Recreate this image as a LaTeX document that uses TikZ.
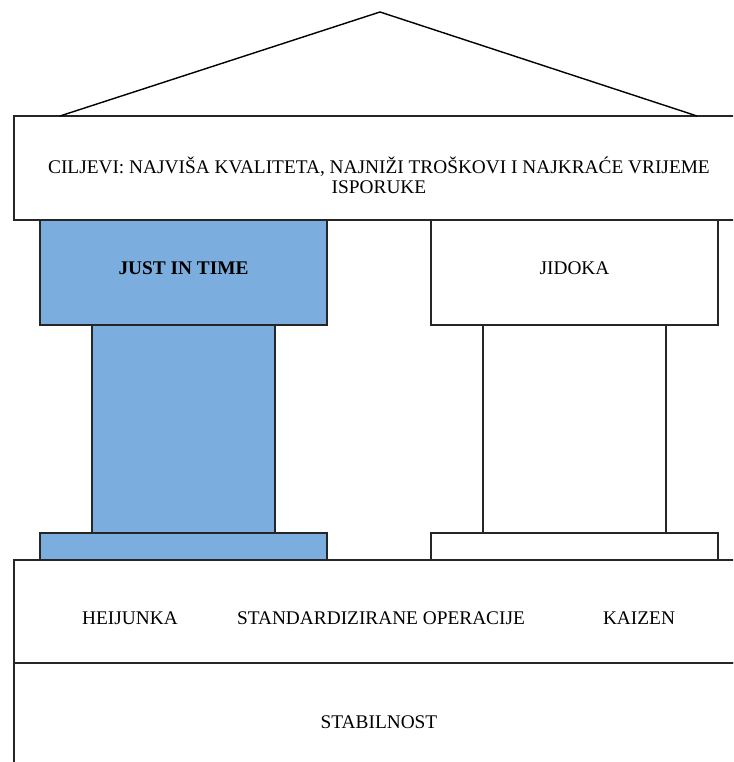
\documentclass[tikz,border=0pt]{standalone}
\usepackage{fontspec}
\setmainfont{Liberation Serif}
\usetikzlibrary{positioning}
\definecolor{jitblue}{RGB}{123,174,222}

\begin{document}
\begin{tikzpicture}[line width=0.8pt]
        \tikzset{block/.style={draw=black!85, rectangle, outer sep=0pt, inner sep=0pt},
        wide/.style={block, minimum width=14.6cm, minimum height=2.08cm},
        capital/.style={block, minimum width=5.74cm, minimum height=2.1cm},
        shaft/.style={block, minimum width=3.66cm, minimum height=4.16cm},
        plinth/.style={block, minimum width=5.74cm, minimum height=0.54cm},
        lbl/.style={font=\fontsize{11}{11.5}\selectfont, align=center},
        jit/.style={fill=jitblue}
        }
        \clip (0,0) rectangle (14.66,15.24);
        \useasboundingbox (0,0) rectangle (14.66,15.24);
        \node [wide] (goals) at (7.58,11.88) {};
        \coordinate (apex) at (7.60,15.0);
        \coordinate (eaveL) at ([xshift=0.92cm]goals.north west);
        \coordinate (eaveR) at ([xshift=-0.94cm]goals.north east);
        \node [capital, jit, below right=0cm and 0.52cm of goals.south west] (jitcap) {};
        \node [shaft, jit, below=0cm of jitcap] (jitshaft) {};
        \node [plinth, jit, below=0cm of jitshaft] (jitbase) {};
        \node [capital, below left=0cm and 0.52cm of goals.south east] (jidcap) {};
        \node [shaft, below=0cm of jidcap] (jidshaft) {};
        \node [plinth, below=0cm of jidshaft] (jidbase) {};
        \coordinate (floor) at (jitbase.south -| goals.south);
        \node [wide, minimum height=2.06cm, below=0cm of floor] (tools) {};
        \node [wide, minimum height=2.6cm, below=0cm of tools] (stab) {};
%%% labels
        \node [lbl] (goalstxt) at ([yshift=-0.15cm]goals.center) {CILJEVI: NAJVIŠA KVALITETA, NAJNIŽI TROŠKOVI I NAJKRAĆE VRIJEME\\ISPORUKE};
        \node [lbl, font=\fontsize{11}{11.5}\selectfont\bfseries] (jittxt) at ([yshift=0.09cm]jitcap.center) {JUST IN TIME};
        \node [lbl] (jidtxt) at ([yshift=0.09cm]jidcap.center) {JIDOKA};
        \node [lbl] (heij) at ([xshift=2.32cm,yshift=-0.13cm]tools.west) {HEIJUNKA};
        \node [lbl] (std) at ([xshift=0.04cm,yshift=-0.13cm]tools.center) {STANDARDIZIRANE OPERACIJE};
        \node [lbl] (kaizen) at ([xshift=-2.10cm,yshift=-0.13cm]tools.east) {KAIZEN};
        \node [lbl] (stabtxt) at ([yshift=0.12cm]stab.center) {STABILNOST};
%%% roof
        \draw (eaveL) -- (apex) -- (eaveR);
\end{tikzpicture}
\end{document}
